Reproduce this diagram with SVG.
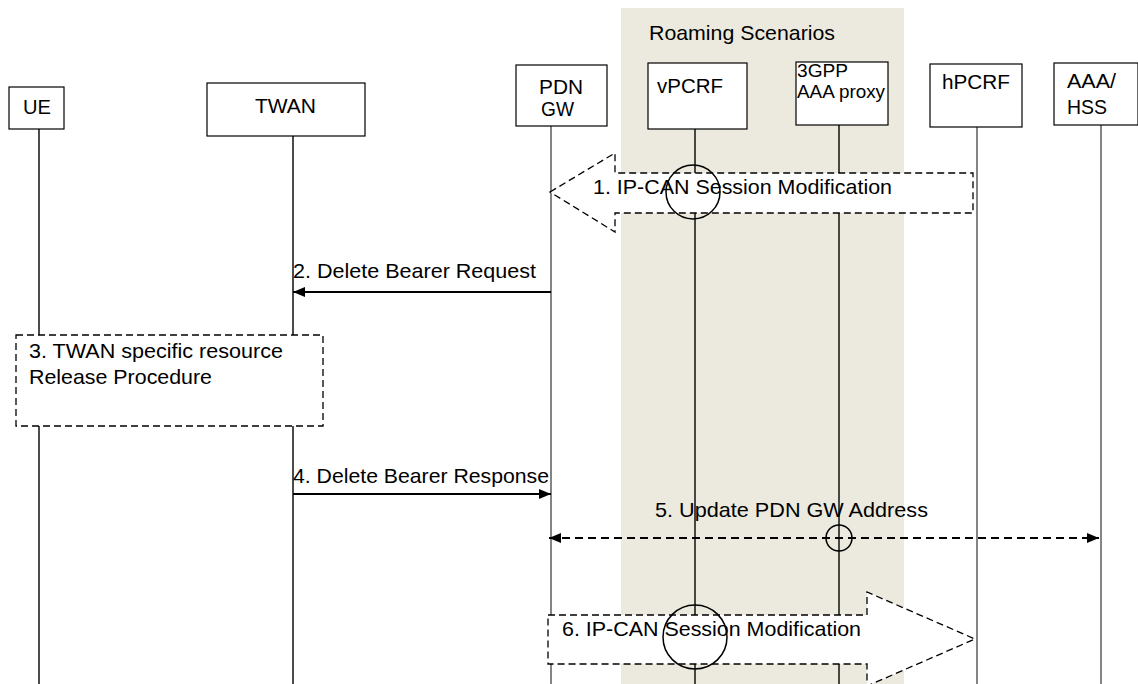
<svg xmlns="http://www.w3.org/2000/svg" width="1138" height="684" viewBox="0 0 1138 684">
<style>
text{font-family:"Liberation Sans",Arial,sans-serif;font-size:21px;fill:#000}
.box{fill:#fff;stroke:#000;stroke-width:1.2}
.life{stroke:#111;stroke-width:1.5;fill:none}
.thin{stroke:#333;stroke-width:1.2}
.msg{stroke:#000;stroke-width:1.8;fill:none}
.dash{fill:#fff;stroke:#000;stroke-width:1.3;stroke-dasharray:7 4}
.ring{fill:none;stroke:#000;stroke-width:1.5}
.tight{font-size:19px}
</style>
<defs>
<marker id="ah" viewBox="0 0 12 10" refX="12" refY="5" markerWidth="12" markerHeight="10" markerUnits="userSpaceOnUse" orient="auto-start-reverse">
<path d="M0,0 L12,5 L0,10 Z" fill="#000"/>
</marker>
</defs>
<rect id="roaming" x="621" y="8" width="283" height="676" fill="#ECEADF"/>
<text x="649" y="40" textLength="186" lengthAdjust="spacingAndGlyphs">Roaming Scenarios</text>
<g id="lifelines">
<line class="life" x1="39" y1="129" x2="39" y2="684"/>
<line class="life" x1="293" y1="136" x2="293" y2="684"/>
<line class="life thin" x1="551" y1="126" x2="551" y2="684"/>
<line class="life" x1="695" y1="129" x2="695" y2="684"/>
<line class="life" x1="839" y1="125" x2="839" y2="684"/>
<line class="life thin" x1="977" y1="127" x2="977" y2="684"/>
<line class="life thin" x1="1101" y1="125" x2="1101" y2="684"/>
</g>
<g id="ue"><rect class="box" x="9" y="87" width="55" height="42"/><text x="23" y="114" textLength="28" lengthAdjust="spacingAndGlyphs">UE</text></g>
<g id="twan"><rect class="box" x="207" y="83" width="158" height="53"/><text x="255" y="113" textLength="61" lengthAdjust="spacingAndGlyphs">TWAN</text></g>
<g id="pdngw"><rect class="box" x="516" y="65" width="91" height="61"/><text x="539" y="94" textLength="44" lengthAdjust="spacingAndGlyphs">PDN</text><text x="541" y="116" textLength="33" lengthAdjust="spacingAndGlyphs">GW</text></g>
<g id="vpcrf"><rect class="box" x="648" y="63" width="99" height="66"/><text x="657" y="93" textLength="66" lengthAdjust="spacingAndGlyphs">vPCRF</text></g>
<g id="aaaproxy"><rect class="box" x="796" y="62" width="92" height="63"/><text class="tight" x="797" y="77" textLength="51" lengthAdjust="spacingAndGlyphs">3GPP</text><text class="tight" x="797" y="98" textLength="88" lengthAdjust="spacingAndGlyphs">AAA proxy</text></g>
<g id="hpcrf"><rect class="box" x="930" y="64" width="92" height="63"/><text x="942" y="89" textLength="68" lengthAdjust="spacingAndGlyphs">hPCRF</text></g>
<g id="aaahss"><rect class="box" x="1054" y="63" width="84" height="62"/><text x="1067" y="88" textLength="49" lengthAdjust="spacingAndGlyphs">AAA/</text><text x="1067" y="114" textLength="40" lengthAdjust="spacingAndGlyphs">HSS</text></g>
<g id="connectors">
<g id="msg1">
<polygon class="dash" points="550,192 615,153 615,173 973,173 973,213 615,213 615,232"/>
<text x="593" y="194" textLength="299" lengthAdjust="spacingAndGlyphs">1. IP-CAN Session Modification</text>
<circle class="ring" cx="693" cy="192" r="27"/>
</g>
<g id="msg2">
<line class="msg" x1="551" y1="292" x2="293" y2="292" marker-end="url(#ah)"/>
<text x="293" y="278" textLength="243" lengthAdjust="spacingAndGlyphs">2. Delete Bearer Request</text>
</g>
<g id="step3">
<rect class="dash" x="16" y="335" width="307" height="91"/>
<text x="29" y="358" textLength="254" lengthAdjust="spacingAndGlyphs">3. TWAN specific resource</text>
<text x="29" y="384" textLength="183" lengthAdjust="spacingAndGlyphs">Release Procedure</text>
</g>
<g id="msg4">
<line class="msg" x1="293" y1="494" x2="551" y2="494" marker-end="url(#ah)"/>
<text x="293" y="483" textLength="256" lengthAdjust="spacingAndGlyphs">4. Delete Bearer Response</text>
</g>
<g id="msg5">
<line class="msg" x1="549" y1="538" x2="1099" y2="538" stroke-dasharray="8 5" marker-start="url(#ah)" marker-end="url(#ah)"/>
<text x="655" y="517" textLength="273" lengthAdjust="spacingAndGlyphs">5. Update PDN GW Address</text>
<circle class="ring" cx="839" cy="538" r="13"/>
</g>
<g id="msg6">
<polygon class="dash" points="548,615 867,615 867,592 975,639 867,686 867,664 548,664"/>
<text x="562" y="636" textLength="299" lengthAdjust="spacingAndGlyphs">6. IP-CAN Session Modification</text>
<circle class="ring" cx="695" cy="637" r="32"/>
</g>
</g>
</svg>
